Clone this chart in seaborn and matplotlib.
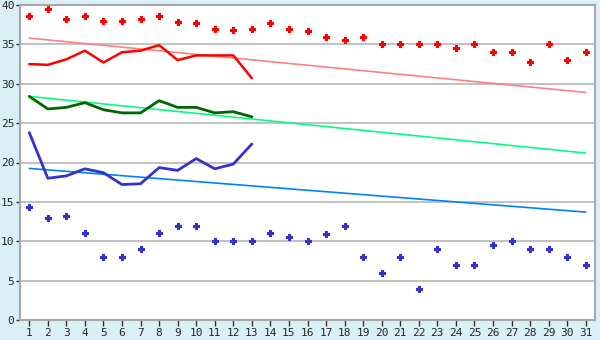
import matplotlib
matplotlib.use("Agg")
import matplotlib.pyplot as plt
import seaborn as sns
import numpy as np
import pandas as pd

days = list(range(1, 32))
red_points = [38.6, 39.5, 38.2, 38.6, 38.0, 38.0, 38.2, 38.6, 37.8, 37.7, 37.0, 36.8, 37.0,
              37.7, 37.0, 36.7, 36.0, 35.5, 36.0, 35.0, 35.1, 35.0, 35.0, 34.6, 35.0, 34.0,
              34.0, 32.7, 35.0, 33.0, 34.0]
blue_points = [14.4, 13.0, 13.2, 11.0, 8.0, 8.0, 9.0, 11.0, 12.0, 12.0, 10.0, 10.0, 10.0,
               11.0, 10.5, 10.0, 10.9, 12.0, 8.0, 6.0, 8.0, 4.0, 9.0, 7.0, 7.0, 9.5,
               10.0, 9.0, 9.0, 8.0, 7.0]
line_days = list(range(1, 14))
red_line = [32.5, 32.4, 33.1, 34.2, 32.7, 34.0, 34.2, 34.9, 33.0, 33.6, 33.6, 33.6, 30.7]
green_line = [28.4, 26.8, 27.0, 27.6, 26.7, 26.3, 26.3, 27.85, 27.0, 27.0, 26.3, 26.45, 25.8]
blue_line = [23.8, 18.0, 18.3, 19.2, 18.7, 17.2, 17.3, 19.35, 19.0, 20.5, 19.2, 19.8, 22.35]
trend_days = [1, 31]
red_trend = [35.8, 28.9]
green_trend = [28.4, 21.2]
blue_trend = [19.25, 13.7]
y_ticks = [0, 5, 10, 15, 20, 25, 30, 35, 40]

sns.set_style("white")
plt.rcParams['font.family'] = ['DejaVu Sans Mono', 'DejaVu Sans']

fig = plt.figure(figsize=(6, 3.4), dpi=100)
fig.patch.set_facecolor("#d9f0f7")
ax = fig.add_axes([20/600, 20/340, 575/600, 315/340])
ax.set_facecolor("white")

for y in y_ticks[1:]:
    ax.axhline(y, color="#b0b0b0", lw=1.1, zorder=0)

sns.lineplot(x=trend_days, y=red_trend, ax=ax, color="#ff8080", lw=1.2)
sns.lineplot(x=trend_days, y=green_trend, ax=ax, color="#00ff80", lw=1.2)
sns.lineplot(x=trend_days, y=blue_trend, ax=ax, color="#0080ff", lw=1.2)

sns.lineplot(x=line_days, y=red_line, ax=ax, color="#ff0000", lw=1.8)
sns.lineplot(x=line_days, y=green_line, ax=ax, color="#006600", lw=2.0)
sns.lineplot(x=line_days, y=blue_line, ax=ax, color="#3333cc", lw=2.0)

sns.scatterplot(x=days, y=red_points, ax=ax, color="#ff0000", marker="P", s=24,
                edgecolor="#ff0000", linewidth=0.8)
sns.scatterplot(x=days, y=blue_points, ax=ax, color="#3333cc", marker="P", s=24,
                edgecolor="#3333cc", linewidth=0.8)

ax.set_xlim(0.5, 31.5)
ax.set_ylim(0, 40)
ax.set_xticks(days)
ax.set_yticks(y_ticks)
ax.tick_params(axis="both", labelsize=8, length=4, width=1, color="#333333", pad=1.5,
               direction="out", left=True, bottom=True)
ax.tick_params(axis="y", length=3, pad=1)
for s in ax.spines.values():
    s.set_color("#a8a8a8")
    s.set_linewidth(1.5)

fig.savefig("out.png", dpi=100, facecolor=fig.get_facecolor())
